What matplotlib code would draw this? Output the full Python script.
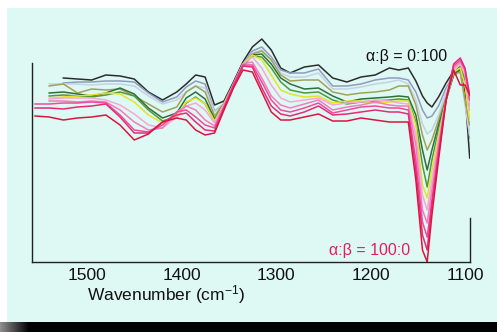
import numpy as np
import matplotlib
matplotlib.use("Agg")
import matplotlib.pyplot as plt
from matplotlib.patches import Rectangle

plt.rcParams['font.family'] = ['Liberation Sans', 'DejaVu Sans']
plt.rcParams['mathtext.fontset'] = 'custom'
plt.rcParams['mathtext.rm'] = 'Liberation Sans'
plt.rcParams['mathtext.default'] = 'regular'

nan = np.nan
wavenumber = [1555, 1540, 1525, 1510, 1495, 1480, 1465, 1450, 1435, 1420, 1405, 1395,
              1385, 1375, 1365, 1355, 1345, 1335, 1325, 1315, 1305, 1295, 1285, 1270,
              1255, 1240, 1225, 1210, 1195, 1180, 1170, 1160, 1152, 1145, 1140, 1135,
              1128, 1120, 1112, 1105, 1100, 1095]

# signal (arbitrary units, larger = stronger absorption)
s_0_100 = [nan, nan, 78, 79, 80, 75, 76, 79, 92, 100, 92, 84, 75, 77, 105, 101, 82, 62, 47, 39, 50,
           68, 73, 67, 65, 78, 82, 77, 75, 68, 70, 68, 81, 96, 103, 107, 97, 83, 71, 71, 92, 158]
s_steel = [nan, nan, 83, 82, 82, 81, 81, 82, 93, 102, 97, 87, 81, 84, 111, 104, 84, 64, 51, 47, 57,
           70, 73, 73, 69, 86, 86, 84, 80, 78, 78, 80, 92, 110, 118, 116, 106, 88, 75, 72, 100, 138]
s_pale = [nan, 84, 84, 84, 85, 84, 84, 86, 96, 104, 100, 92, 86, 88, 112, 104, 85, 65, 53, 50, 60,
          73, 77, 77, 73, 89, 89, 87, 84, 82, 80, 84, 100, 124, 134, 130, 115, 92, 76, 72, 105, 135]
s_olive = [nan, 86, 84, 93, 89, 90, 89, 96, 104, 112, 107, 92, 86, 92, 116, 103, 84, 65, 54, 51, 60,
           75, 81, 80, 80, 92, 95, 93, 92, 90, 86, 86, 105, 135, 150, 140, 120, 97, 74, 72, 100, 125]
s_dkgreen = [nan, 93, 92, 94, 96, 93, 88, 94, 108, 118, 113, 98, 92, 99, 119, 104, 85, 66, 55, 54, 64,
             78, 84, 89, 88, 96, 102, 99, 98, 97, 96, 97, 115, 150, 170, 150, 125, 100, 75, 68, 80, 100]
s_green = [nan, 96, 95, 96, 97, 95, 92, 96, 110, 121, 117, 103, 97, 104, 121, 104, 85, 66, 56, 57, 68,
           82, 90, 93, 92, 100, 104, 102, 101, 100, 99, 100, 122, 165, 187, 160, 130, 100, 73, 66, 78, 110]
s_yellow = [nan, 98, 97, 96, 95, 93, 94, 102, 115, 123, 116, 102, 98, 104, 121, 104, 85, 64, 55, 60, 75,
            90, 94, 97, 96, 103, 101, 101, 103, 102, 101, 101, 125, 185, 198, 170, 135, 100, 72, 68, 85, 120]
s_ltpink = [nan, 99, 98, 98, 98, 100, 105, 114, 125, 128, 117, 106, 103, 110, 123, 104, 85, 64, 57, 68, 85,
            98, 102, 100, 98, 105, 103, 102, 100, 101, 103, 104, 135, 195, 210, 180, 140, 100, 70, 64, 75, 110]
s_pink = [nan, 101, 101, 102, 101, 102, 110, 122, 130, 128, 112, 106, 110, 120, 126, 106, 84, 64, 62, 78, 96,
          105, 108, 104, 100, 110, 107, 105, 102, 105, 106, 106, 145, 210, 223, 190, 145, 100, 68, 62, 70, 100]
s_hotpink = [104, 104, 103, 103, 102, 103, 115, 130, 132, 125, 112, 110, 117, 125, 128, 107, 85, 65, 65, 82, 100,
             110, 112, 108, 103, 113, 110, 107, 106, 108, 108, 110, 160, 222, 237, 200, 150, 100, 66, 60, 70, 100]
s_deeppink = [108, 108, 109, 107, 106, 104, 117, 133, 133, 122, 115, 113, 122, 130, 131, 108, 86, 66, 67, 88, 106,
              114, 116, 112, 106, 115, 114, 112, 110, 112, 112, 114, 170, 235, 250, 205, 155, 100, 64, 58, 68, 95]
s_100_0 = [116, 117, 120, 118, 117, 115, 125, 140, 134, 122, 118, 120, 130, 135, 133, 110, 88, 70, 72, 92, 112,
           120, 120, 117, 114, 121, 121, 118, 120, 122, 122, 122, 180, 250, 262, 215, 160, 100, 70, 85, 85, 95]

series = [s_0_100, s_steel, s_pale, s_olive, s_dkgreen, s_green, s_yellow,
          s_ltpink, s_pink, s_hotpink, s_deeppink, s_100_0]
colors = ['#2c2c2c', '#8e9cc0', '#c4d2e2', '#a4a05a', '#2f6f3a', '#4d9a3a', '#e6e22a',
          '#f6a8d2', '#f27cbc', '#ee4c9c', '#e82a78', '#dc1440']
tick_values = [1500, 1400, 1300, 1200, 1100]
label_top = 'α:β = 0:100'
label_bottom = 'α:β = 100:0'

W, H = 497, 332
fig = plt.figure(figsize=(W / 100, H / 100), dpi=100)
fig.patch.set_facecolor('white')
bg = '#def8f3'
fig.patches.append(Rectangle((7 / W, 10 / H), 1 - 7 / W, 1 - 18 / H, transform=fig.transFigure,
                             facecolor=bg, edgecolor='none', zorder=-10))

# bottom black shadow band with a soft left end
band = fig.add_axes([0, 0, 1, 10 / H])
grad = np.zeros((1, W, 3))
ramp = np.clip(np.arange(W) / 28.0, 0, 1)
grad[0, :, :] = (0.55 * (1 - ramp))[:, None] + 0.01
band.imshow(grad, aspect='auto', extent=[0, 1, 0, 1], interpolation='nearest')
band.axis('off')

ax = fig.add_axes([31.7 / W, (H - 262) / H, (470 - 31.7) / W, 242 / H])
ax.set_zorder(5)
ax.set_facecolor('none')
for s, c in zip(series, colors):
    ax.plot(wavenumber, s, color=c, lw=1.1, solid_joinstyle='round')

ax.set_xlim(1558.5, 1094.7)
ax.set_ylim(262, 20)
ax.spines['top'].set_visible(False)
ax.spines['left'].set_bounds(262, 63)
ax.spines['right'].set_bounds(262, 218)
for sp in ['left', 'right', 'bottom']:
    ax.spines[sp].set_color('#222222')
    ax.spines[sp].set_linewidth(1.0)
ax.set_yticks([])
ax.set_xticks(tick_values)
ax.set_xticklabels([str(t) for t in tick_values])
ax.tick_params(axis='x', length=0, pad=4, labelsize=12.5, colors='#111111')

ax.text(0.306, -0.136, 'Wavenumber (cm$^{-1}$)', transform=ax.transAxes, ha='center',
        va='center', fontsize=12.5, color='#111111')
ax.text(1162, 57, label_top, ha='center', va='center', fontsize=11.5, color='#111111')
ax.text(1201, 251, label_bottom, ha='center', va='center', fontsize=11.5, color='#e0205a')

fig.savefig('out.png', dpi=100, facecolor=fig.get_facecolor())
